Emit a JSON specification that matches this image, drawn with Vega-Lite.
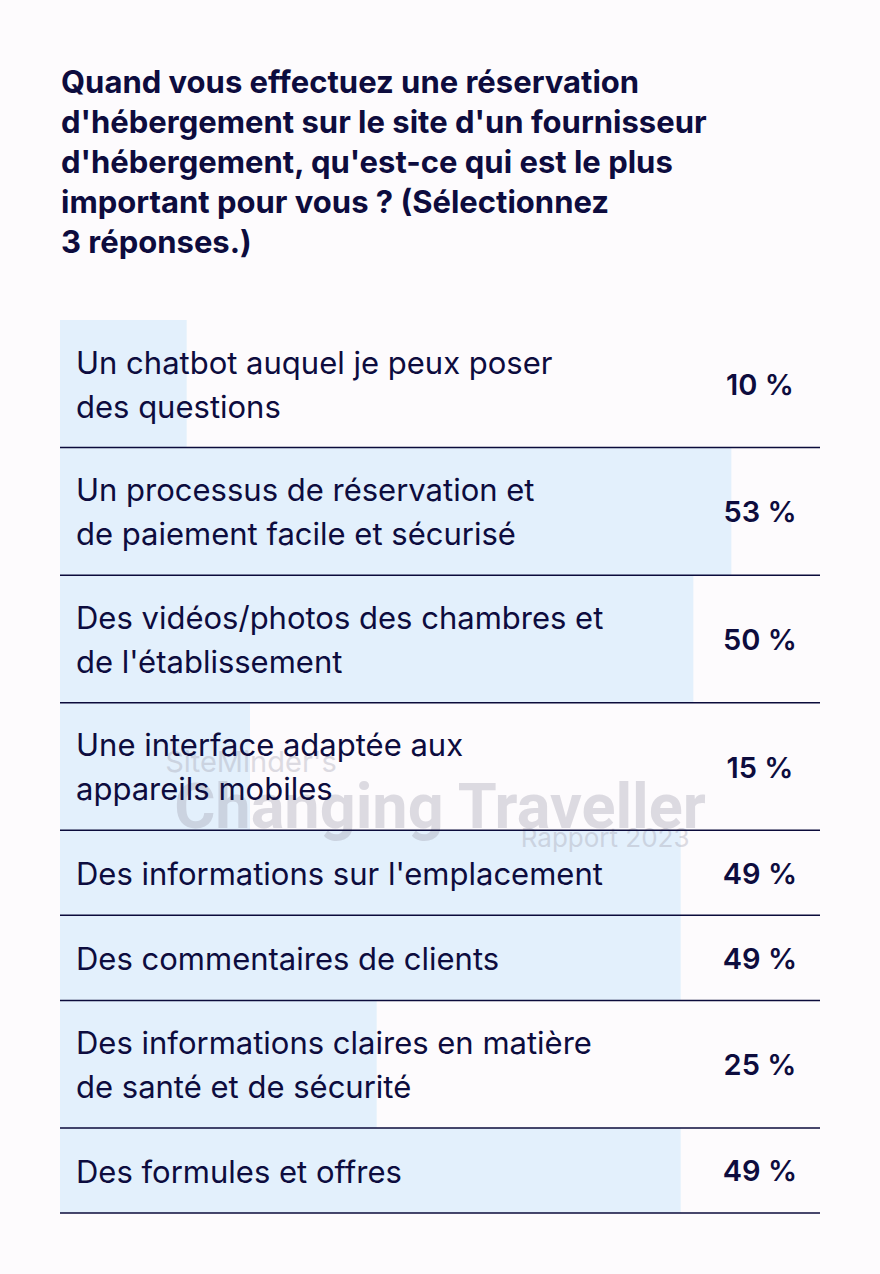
{
  "$schema": "https://vega.github.io/schema/vega-lite/v6.json",
  "autosize": {"type": "none"},
  "width": 760,
  "height": 893,
  "padding": {"left": 60, "top": 320, "right": 60, "bottom": 61},
  "background": "#fdfbfd",
  "config": {"view": {"stroke": null}, "font": "Inter"},
  "title": {
    "text": ["Quand vous effectuez une réservation", "d'hébergement sur le site d'un fournisseur", "d'hébergement, qu'est-ce qui est le plus", "important pour vous ? (Sélectionnez", "3 réponses.)"],
    "anchor": "start",
    "frame": "group",
    "font": "Inter",
    "fontSize": 31,
    "fontWeight": "bold",
    "color": "#0d0c3e",
    "lineHeight": 40,
    "offset": 60,
    "dx": 1
  },
  "data": {
    "values": [
      {"label": "Un chatbot auquel je peux poser\ndes questions", "pct": 10},
      {"label": "Un processus de réservation et\nde paiement facile et sécurisé", "pct": 53},
      {"label": "Des vidéos/photos des chambres et\nde l'établissement", "pct": 50},
      {"label": "Une interface adaptée aux\nappareils mobiles", "pct": 15},
      {"label": "Des informations sur l'emplacement", "pct": 49},
      {"label": "Des commentaires de clients", "pct": 49},
      {"label": "Des informations claires en matière\nde santé et de sécurité", "pct": 25},
      {"label": "Des formules et offres", "pct": 49}
    ]
  },
  "transform": [
    {"calculate": "length(split(datum.label, '\\n')) + 1", "as": "units"},
    {"window": [{"op": "sum", "field": "units", "as": "end"}], "frame": [null, 0]},
    {"calculate": "datum.end - datum.units", "as": "start"},
    {"calculate": "datum.end - datum.units / 2", "as": "mid"},
    {"calculate": "datum.mid + 0.08 - (datum.units - 2) * 0.53", "as": "ty"},
    {"calculate": "datum.pct + ' %'", "as": "pctText"}
  ],
  "encoding": {
    "x": {"type": "quantitative", "scale": {"domain": [0, 60], "nice": false, "zero": true}, "axis": null},
    "y": {"type": "quantitative", "scale": {"domain": [0, 21], "nice": false, "zero": false, "reverse": true}, "axis": null}
  },
  "layer": [
    {
      "mark": {"type": "rect", "color": "#e3f0fc"},
      "encoding": {
        "x": {"field": "pct", "type": "quantitative"},
        "x2": {"datum": 0},
        "y": {"field": "start", "type": "quantitative"},
        "y2": {"field": "end"}
      }
    },
    {
      "data": {"values": [
        {"wm": "SiteMinder's", "px": 8.3, "py": 10.42}
      ]},
      "transform": [],
      "mark": {"type": "text", "align": "left", "baseline": "middle", "font": "Inter", "fontSize": 29, "color": "#9a98a8", "opacity": 0.32},
      "encoding": {
        "x": {"field": "px", "type": "quantitative"},
        "y": {"field": "py", "type": "quantitative"},
        "text": {"field": "wm"}
      }
    },
    {
      "data": {"values": [
        {"wm": "Changing Traveller", "px": 30, "py": 11.5}
      ]},
      "transform": [],
      "mark": {"type": "text", "align": "center", "baseline": "middle", "font": "Roboto", "fontWeight": "bold", "fontSize": 63, "color": "#9a98a8", "opacity": 0.32},
      "encoding": {
        "x": {"field": "px", "type": "quantitative"},
        "y": {"field": "py", "type": "quantitative"},
        "text": {"field": "wm"}
      }
    },
    {
      "data": {"values": [
        {"wm": "Rapport 2023", "px": 49.7, "py": 12.2}
      ]},
      "transform": [],
      "mark": {"type": "text", "align": "right", "baseline": "middle", "font": "Inter", "fontSize": 26, "color": "#9a98a8", "opacity": 0.32},
      "encoding": {
        "x": {"field": "px", "type": "quantitative"},
        "y": {"field": "py", "type": "quantitative"},
        "text": {"field": "wm"}
      }
    },
    {
      "mark": {"type": "rule", "color": "#0b0b3b", "strokeWidth": 1.5},
      "encoding": {
        "x": {"datum": 0},
        "x2": {"datum": 60},
        "y": {"field": "end", "type": "quantitative"}
      }
    },
    {
      "mark": {"type": "text", "align": "left", "baseline": "middle", "dx": 16, "font": "Inter", "fontSize": 31, "lineHeight": 44, "lineBreak": "\n", "color": "#0d0c3e"},
      "encoding": {
        "x": {"datum": 0},
        "y": {"field": "ty", "type": "quantitative"},
        "text": {"field": "label"}
      }
    },
    {
      "mark": {"type": "text", "align": "center", "baseline": "middle", "dy": 2, "font": "Inter", "fontSize": 29, "fontWeight": 600, "color": "#0d0c3e"},
      "encoding": {
        "x": {"datum": 55.26},
        "y": {"field": "mid", "type": "quantitative"},
        "text": {"field": "pctText"}
      }
    }
  ]
}
